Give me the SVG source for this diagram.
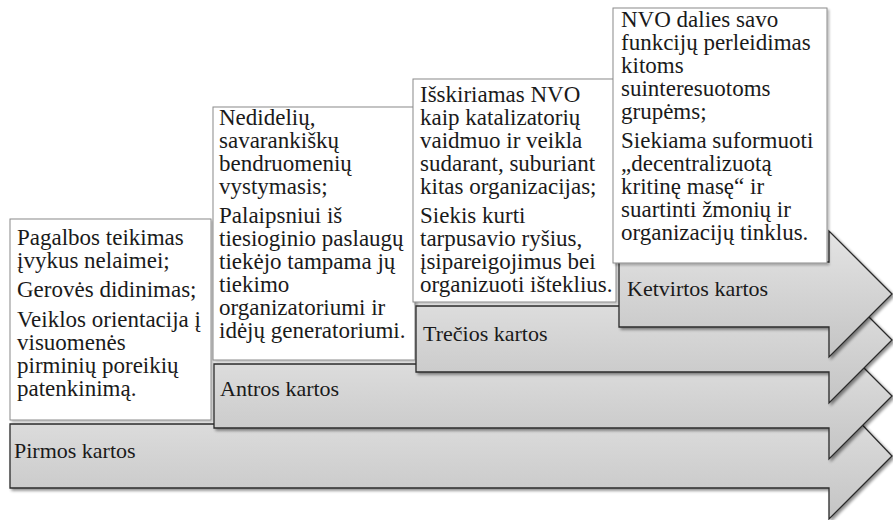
<svg xmlns="http://www.w3.org/2000/svg" width="893" height="520" viewBox="0 0 893 520">
  <defs>
    <linearGradient id="arrowFill" x1="0" y1="0" x2="0" y2="1">
      <stop offset="0" stop-color="#e4e4e4"/>
      <stop offset="1" stop-color="#c4c4c4"/>
    </linearGradient>
    <filter id="shadow" x="-5%" y="-10%" width="115%" height="130%">
      <feGaussianBlur in="SourceAlpha" stdDeviation="1.5"/>
      <feOffset dx="2" dy="2" result="b"/>
      <feComponentTransfer><feFuncA type="linear" slope="0.45"/></feComponentTransfer>
      <feMerge><feMergeNode/><feMergeNode in="SourceGraphic"/></feMerge>
    </filter>
    <filter id="boxShadow" x="-5%" y="-5%" width="115%" height="115%">
      <feGaussianBlur in="SourceAlpha" stdDeviation="1"/>
      <feOffset dx="1.5" dy="1.5" result="b"/>
      <feComponentTransfer><feFuncA type="linear" slope="0.25"/></feComponentTransfer>
      <feMerge><feMergeNode/><feMergeNode in="SourceGraphic"/></feMerge>
    </filter>
  </defs>
  <style>
    .arrow { fill: url(#arrowFill); stroke: #2b2b2b; stroke-width: 1.3; stroke-linejoin: miter; filter: url(#shadow); }
    .box { fill: #ffffff; stroke: #8a8a8a; stroke-width: 1; filter: url(#boxShadow); }
    text { font-family: "Liberation Serif", "Times New Roman", serif; fill: #1a1a1a; }
    .label { font-size: 22px; }
    .item { font-size: 23px; }
  </style>

  <rect width="893" height="520" fill="#ffffff"/>

  <!-- Stage 1 -->
  <g id="stage1-arrow">
    <path class="arrow" d="M10,424 H829 V390 L892,456 L829,519 V488 H10 Z"/>
    <text class="label" x="14" y="458">Pirmos kartos</text>
  </g>
  <g id="stage1-box" class="item">
    <rect class="box" x="10" y="219" width="201" height="201"/>
    <text x="17" y="245">Pagalbos teikimas</text>
    <text x="17" y="268">įvykus nelaimei;</text>
    <text x="17" y="297">Gerovės didinimas;</text>
    <text x="17" y="327">Veiklos orientacija į</text>
    <text x="17" y="350">visuomenės</text>
    <text x="17" y="373">pirminių poreikių</text>
    <text x="17" y="396">patenkinimą.</text>
  </g>

  <!-- Stage 2 -->
  <g id="stage2-arrow">
    <path class="arrow" d="M214,364 H829 V333 L892,396 L829,459 V428 H214 Z"/>
    <text class="label" x="220" y="396">Antros kartos</text>
  </g>
  <g id="stage2-box" class="item">
    <rect class="box" x="213" y="107" width="202" height="253"/>
    <text x="219" y="125">Nedidelių,</text>
    <text x="219" y="148">savarankiškų</text>
    <text x="219" y="171">bendruomenių</text>
    <text x="219" y="194">vystymasis;</text>
    <text x="219" y="223">Palaipsniui iš</text>
    <text x="219" y="246">tiesioginio paslaugų</text>
    <text x="219" y="269">tiekėjo tampama jų</text>
    <text x="219" y="292">tiekimo</text>
    <text x="219" y="315">organizatoriumi ir</text>
    <text x="219" y="338">idėjų generatoriumi.</text>
  </g>

  <!-- Stage 3 -->
  <g id="stage3-arrow">
    <path class="arrow" d="M416,306 H829 V277 L892,340 L829,403 V372 H416 Z"/>
    <text class="label" x="423" y="341">Trečios kartos</text>
  </g>
  <g id="stage3-box" class="item">
    <rect class="box" x="413" y="79" width="203" height="223"/>
    <text x="420" y="102">Išskiriamas NVO</text>
    <text x="420" y="125">kaip katalizatorių</text>
    <text x="420" y="148">vaidmuo ir veikla</text>
    <text x="420" y="171">sudarant, suburiant</text>
    <text x="420" y="194">kitas organizacijas;</text>
    <text x="420" y="223">Siekis kurti</text>
    <text x="420" y="246">tarpusavio ryšius,</text>
    <text x="420" y="269">įsipareigojimus bei</text>
    <text x="420" y="292">organizuoti išteklius.</text>
  </g>

  <!-- Stage 4 -->
  <g id="stage4-arrow">
    <path class="arrow" d="M619,262 H829 V231 L892,294 L829,357 V327 H619 Z"/>
    <text class="label" x="627" y="296">Ketvirtos kartos</text>
  </g>
  <g id="stage4-box" class="item">
    <rect class="box" x="613" y="8" width="214" height="255"/>
    <text x="621" y="27">NVO dalies savo</text>
    <text x="621" y="50">funkcijų perleidimas</text>
    <text x="621" y="73">kitoms</text>
    <text x="621" y="96">suinteresuotoms</text>
    <text x="621" y="119">grupėms;</text>
    <text x="621" y="148">Siekiama suformuoti</text>
    <text x="621" y="171">„decentralizuotą</text>
    <text x="621" y="194">kritinę masę“ ir</text>
    <text x="621" y="217">suartinti žmonių ir</text>
    <text x="621" y="240">organizacijų tinklus.</text>
  </g>

  <!-- connectors: none; stages are linked by overlapping arrows -->
  <g id="connectors"/>
</svg>
